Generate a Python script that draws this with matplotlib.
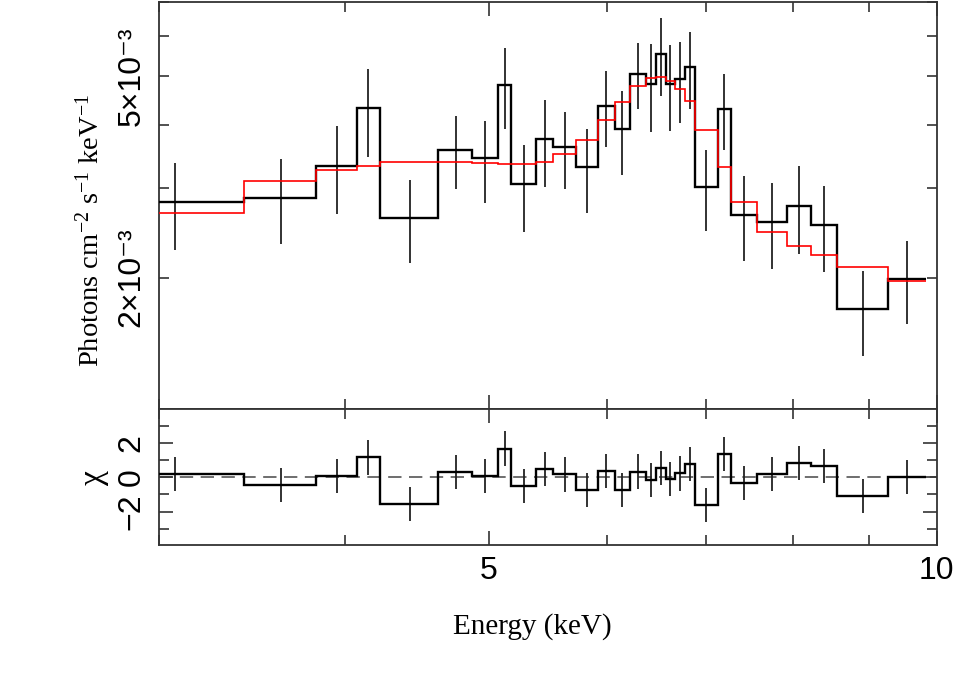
import numpy as np
import matplotlib
matplotlib.use("Agg")
import matplotlib.pyplot as plt
from matplotlib.ticker import FixedLocator, NullFormatter, FixedFormatter

plt.rcParams['mathtext.fontset'] = 'custom'
plt.rcParams['mathtext.rm'] = 'Liberation Serif'
plt.rcParams['mathtext.it'] = 'Liberation Serif:italic'

# ---- data ----
edges = [2.728, 3.425, 3.825, 4.076, 4.225, 4.624, 4.874, 5.074, 5.175, 5.377,
         5.525, 5.723, 5.924, 6.074, 6.224, 6.375, 6.474, 6.575, 6.672, 6.774,
         6.877, 7.126, 7.274, 7.576, 7.926, 8.226, 8.575, 9.279, 9.831]
flux = [2.816, 2.876, 3.327, 4.316, 2.626, 3.571, 3.439, 4.804, 3.056, 3.754,
        3.615, 3.303, 4.367, 3.928, 5.043, 4.819, 5.529, 4.819, 4.923, 5.199,
        3.019, 4.299, 2.662, 2.579, 2.769, 2.541, 1.733, 1.991]          # 1e-3
flux_err = [0.55, 0.55, 0.66, 0.85, 0.49, 0.587, 0.63, 0.877, 0.60, 0.73,
            0.62, 0.625, 0.74, 0.745, 0.75, 0.95, 0.965, 0.93, 0.896, 0.906,
            0.553, 0.736, 0.506, 0.50, 0.544, 0.49, 0.33, 0.372]          # 1e-3
model = [2.679, 3.103, 3.262, 3.322, 3.378, 3.388, 3.368, 3.352, 3.352, 3.388,
         3.502, 3.737, 4.092, 4.441, 4.776, 4.946, 4.982, 4.892, 4.717, 4.462,
         3.910, 3.300, 2.824, 2.464, 2.313, 2.217, 2.097, 1.970]          # 1e-3
chi = [0.21, -0.43, 0.09, 1.16, -1.56, 0.31, 0.09, 1.67, -0.52, 0.47,
       0.17, -0.74, 0.38, -0.74, 0.33, -0.17, 0.56, -0.10, 0.23, 0.79,
       -1.61, 1.34, -0.35, 0.19, 0.82, 0.64, -1.09, 0.03]
chi_err = [1.0] * 28

x_major = [5, 10]
x_major_labels = ['5', '10']
x_minor = [3, 4, 6, 7, 8, 9]
y_major = [2e-3, 5e-3]
y_major_labels = ['2×10⁻³', '5×10⁻³']
y_minor = [3e-3, 4e-3, 6e-3, 7e-3]
r_major = [-2, 0, 2]
r_major_labels = ['−2', '0', '2']
r_minor = [-3, -1, 1, 3]

# ---- figure ----
W, H = 969, 690
fig = plt.figure(figsize=(W / 100, H / 100), dpi=100)
L = 158.7 / W
AW = (936.7 - 158.7) / W
ax1 = fig.add_axes([L, 1 - 409.3 / H, AW, (409.3 - 1.7) / H])
ax2 = fig.add_axes([L, 1 - 545.3 / H, AW, (545.3 - 409.3) / H])

e = np.array(edges)
ctr = 0.5 * (e[:-1] + e[1:])
f = np.array(flux) * 1e-3
fe = np.array(flux_err) * 1e-3
m = np.array(model) * 1e-3

ax1.vlines(ctr, f - fe, f + fe, color='#222222', lw=1.3, zorder=2)
ax1.stairs(f, e, baseline=None, color='black', lw=1.7, zorder=3)
ax1.stairs(m, e, baseline=None, color='#ff0000', lw=1.2, zorder=4)

ax2.axhline(0, color='#555555', lw=1.2, ls=(0, (8, 4.5)), zorder=1)
c = np.array(chi)
ce = np.array(chi_err)
ax2.vlines(ctr, c - ce, c + ce, color='#222222', lw=1.3, zorder=2)
ax2.stairs(c, e, baseline=None, color='black', lw=1.7, zorder=3)

for ax in (ax1, ax2):
    ax.set_xscale('log')
    ax.set_xlim(3, 10)
    ax.xaxis.set_major_locator(FixedLocator(x_major))
    ax.xaxis.set_minor_locator(FixedLocator(x_minor))
    ax.xaxis.set_minor_formatter(NullFormatter())
    for s in ax.spines.values():
        s.set_color('#333333')
        s.set_linewidth(1.3)
    ax.tick_params(which='both', direction='in', top=True, right=True,
                   color='#333333', width=1.2)
    ax.tick_params(which='major', length=10)
    ax.tick_params(which='minor', length=7)

ax1.set_yscale('log')
ax1.set_ylim(1.1e-3, 7.0e-3)
ax1.yaxis.set_major_locator(FixedLocator(y_major))
ax1.yaxis.set_major_formatter(FixedFormatter(y_major_labels))
ax1.yaxis.set_minor_locator(FixedLocator(y_minor))
ax1.yaxis.set_minor_formatter(NullFormatter())
ax1.tick_params(axis='y', which='major', length=7)
ax1.xaxis.set_major_formatter(NullFormatter())

ax2.set_ylim(-3.96, 3.96)
ax2.yaxis.set_major_locator(FixedLocator(r_major))
ax2.yaxis.set_major_formatter(FixedFormatter(r_major_labels))
ax2.yaxis.set_minor_locator(FixedLocator(r_minor))
ax2.yaxis.set_minor_formatter(NullFormatter())
ax2.xaxis.set_major_formatter(FixedFormatter(x_major_labels))

for ax in (ax1, ax2):
    ax.tick_params(axis='y', which='major', pad=8.6)
    for lab in ax.get_yticklabels():
        lab.set_rotation(90)
        lab.set_va('center')
        lab.set_ha('right')
        lab.set_fontsize(23)
        lab.set_family(['Liberation Sans', 'DejaVu Sans'])

ax2.tick_params(axis='x', which='major', pad=7.5)
for lab in ax2.get_xticklabels():
    lab.set_fontsize(23)
    lab.set_family(['Liberation Sans', 'DejaVu Sans'])

fig.text(532 / W, 1 - 633.3 / H, 'Energy (keV)', ha='center', va='baseline',
         fontsize=21, family='Liberation Serif')
fig.text(90 / W, 1 - 231 / H, r'Photons cm$^{-2}$ s$^{-1}$ keV$^{-1}$',
         rotation=90, ha='center', va='center', fontsize=20.5,
         family='Liberation Serif')
fig.text(94 / W, 1 - 478 / H, 'χ', rotation=90, ha='center', va='center',
         fontsize=24, family=['Liberation Serif', 'DejaVu Serif'])

fig.savefig('out.png', dpi=100)
